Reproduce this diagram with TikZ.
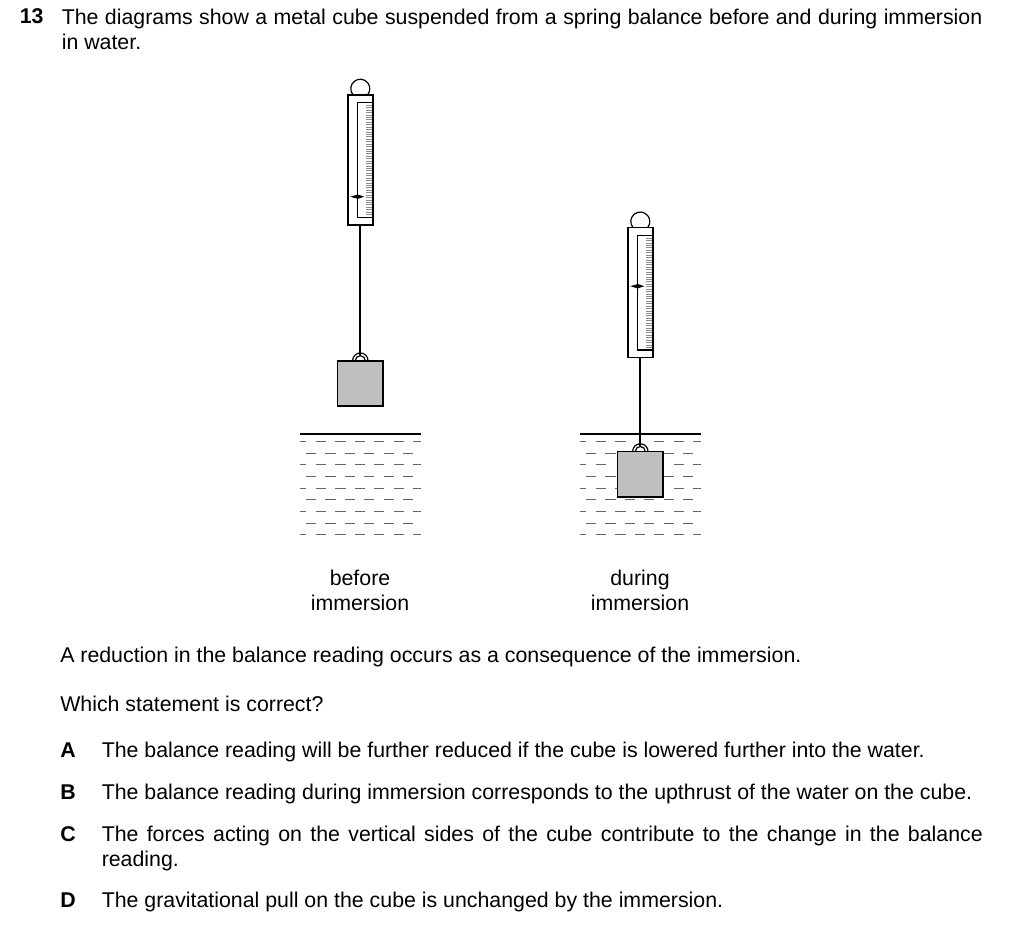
\documentclass[tikz,border=0pt]{standalone}
\usepackage{fontspec}
\setmainfont{Liberation Sans}
\tikzset{
	txt/.style={anchor=base west, inner sep=0pt, font=\fontsize{16}{18}\selectfont},
	lab/.style={anchor=base, inner sep=0pt, font=\fontsize{16}{18}\selectfont},
	boldtxt/.style={txt, font=\fontsize{16}{18}\selectfont\bfseries},
	heavy/.style={line width=1.25pt, black},
	thinline/.style={line width=0.9pt, black},
	scaletick/.style={line width=0.5pt, black!45},
	wave/.style={line width=0.85pt, black!60},
}
\definecolor{cubegrey}{gray}{0.75}
% balanca: x, topo, altura do ponteiro, nome do ponto inferior
\newcommand{\springbalance}[4]{
	\begin{scope}[shift={(#1,#2)}]
		\draw[thinline] (-7.4,0) arc[start angle=219, end angle=-39, radius=7.125pt];
		\draw[heavy] (-12.5,0) rectangle (12.5,130);
		\draw[thinline] (12.5,8) -- (-2.5,8) -- (-2.5,122.5) -- (12.5,122.5);
		\foreach \t in {0,...,45}
			\draw[scaletick] (6,{10.5+\t*2.43}) -- (12,{10.5+\t*2.43});
		\fill[black] (-10,#3) -- (-2.5,{#3-2.2}) -- (4,#3) -- (-2.5,{#3+2.2}) -- cycle;
		\coordinate (#4) at (0,130);
	\end{scope}
}
% agua: x do centro
\newcommand{\waterbath}[1]{
	\begin{scope}[shift={(#1,0)}]
		\draw[heavy] (-60.5,433.7) -- (61,433.7);
		\foreach \r in {0,2,4,6,8} {
			\draw[wave] (-60,{441.4+\r*11.67}) -- (-54.5,{441.4+\r*11.67});
			\draw[wave] (52.9,{441.4+\r*11.67}) -- (61,{441.4+\r*11.67});
			\foreach \k in {0,...,4}
				\draw[wave] ({-44.3+\k*19.45},{441.4+\r*11.67}) -- ({-34.2+\k*19.45},{441.4+\r*11.67});
		}
		\foreach \r in {1,3,5,7} {
			\foreach \k in {0,...,5}
				\draw[wave] ({-54.3+\k*19.45},{441.4+\r*11.67}) -- ({-44.2+\k*19.45},{441.4+\r*11.67});
		}
	\end{scope}
}
% cubo com argola: centro x, topo, nome do ponto superior
\newcommand{\metalcube}[3]{
	\begin{scope}[shift={(#1,#2)}]
		\draw[heavy, fill=cubegrey] (-22.7,0) rectangle (22.7,45.3);
		\draw[thinline] (-7.7,0) arc[start angle=180, end angle=0, radius=5.8pt];
		\draw[thinline] (-5,0) arc[start angle=180, end angle=0, radius=3.75pt];
		\coordinate (#3) at (0,-5.5);
	\end{scope}
}
\begin{document}
\begin{tikzpicture}[x=0.75pt, y=-0.75pt]
	\useasboundingbox (0,0) rectangle (1024,949);

	% Enunciado
	\node[boldtxt] (num) at (19.5,24) {13};
	\node[txt] (q1) at (61.5,24.5) {\makebox[690.4pt][s]{The diagrams show a metal cube suspended from a spring balance before and during immersion}};
	\node[txt] (q2) at (61.5,50) {in water.};

	% Primeiro desenho
	\springbalance{360.3}{94.7}{102}{balA}
	\metalcube{360.3}{360.7}{ringA}
	\draw[heavy] (balA) -- (ringA);
	\waterbath{360.3}

	% Segundo desenho
	\waterbath{640.3}
	\fill[white] (635,437) rectangle (646,446);
	\fill[white] (612,460) rectangle (618,470);
	\springbalance{640.3}{227.5}{58.7}{balB}
	\metalcube{640.3}{451.5}{ringB}
	\draw[heavy] (balB) -- (ringB);

	% Legendas
	\node[lab] (before) at (360,585) {before};
	\node[lab] (immA) at (360,610.5) {immersion};
	\node[lab] (during) at (640,585) {during};
	\node[lab] (immB) at (640,610.5) {immersion};

	% Texto
	\node[txt] (t1) at (60,662) {A reduction in the balance reading occurs as a consequence of the immersion.};
	\node[txt] (t2) at (60,711) {Which statement is correct?};

	% Alternativas
	\node[boldtxt] (optA) at (60,757) {A};
	\node[txt] (ansA) at (101.5,757) {The balance reading will be further reduced if the cube is lowered further into the water.};
	\node[boldtxt] (optB) at (60,799) {B};
	\node[txt] (ansB) at (101.5,799) {The balance reading during immersion corresponds to the upthrust of the water on the cube.};
	\node[boldtxt] (optC) at (60,841) {C};
	\node[txt] (ansC) at (101.5,841) {\makebox[660.75pt][s]{The forces acting on the vertical sides of the cube contribute to the change in the balance}};
	\node[txt] (ansCb) at (101.5,866) {reading.};
	\node[boldtxt] (optD) at (60,907) {D};
	\node[txt] (ansD) at (101.5,907) {The gravitational pull on the cube is unchanged by the immersion.};
\end{tikzpicture}
\end{document}
